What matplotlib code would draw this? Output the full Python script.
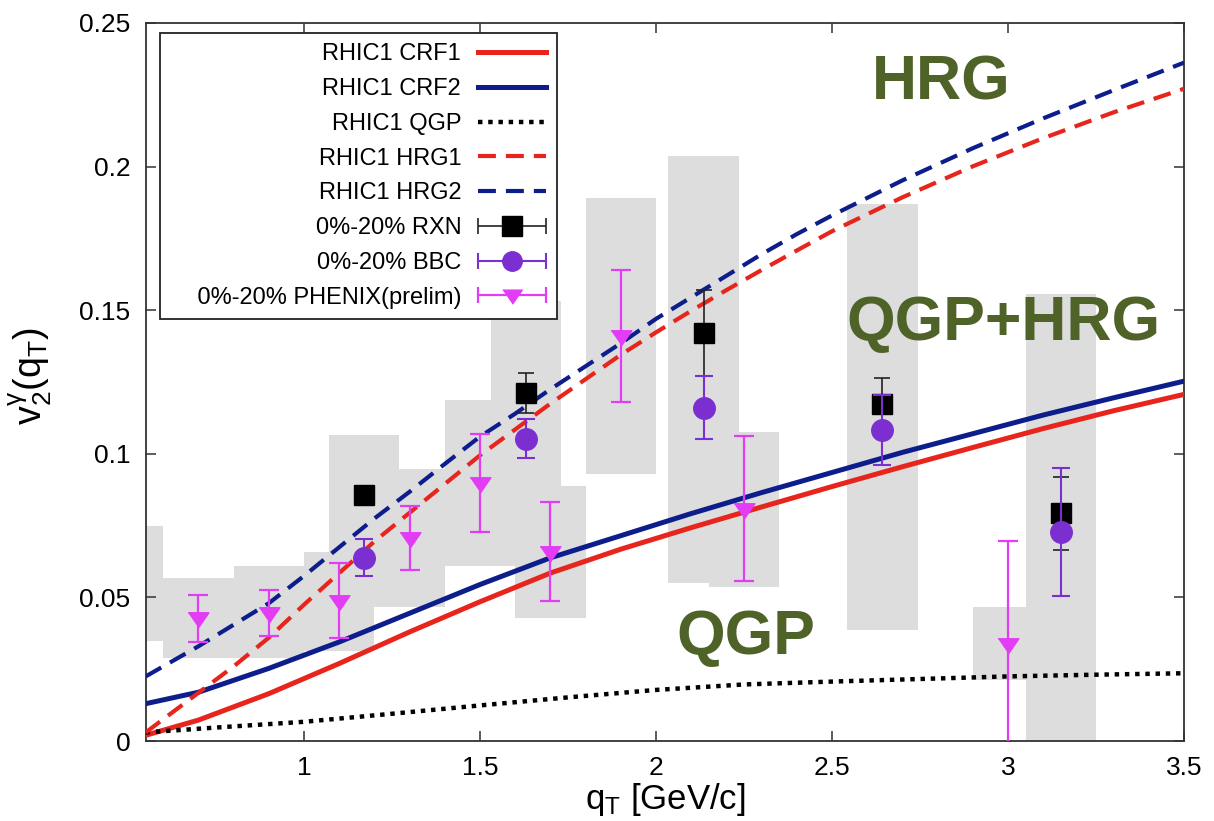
import numpy as np
import matplotlib
matplotlib.use('Agg')
import matplotlib.pyplot as plt
from matplotlib.container import ErrorbarContainer
from matplotlib.legend_handler import HandlerErrorbar
from matplotlib.patches import Rectangle

plt.rcParams['font.family'] = ['Liberation Sans', 'DejaVu Sans']
plt.rcParams['mathtext.fontset'] = 'custom'
plt.rcParams['mathtext.rm'] = 'Liberation Sans'
plt.rcParams['mathtext.it'] = 'Liberation Sans'
plt.rcParams['mathtext.bf'] = 'Liberation Sans:bold'

# ---------------- theory curves ----------------
qT_crf = [0.55, 0.7, 0.9, 1.1, 1.3, 1.5, 1.7, 1.9, 2.1, 2.3, 2.5, 2.7, 2.9, 3.1, 3.3, 3.5]
crf1 = [0.002, 0.0073, 0.0165, 0.027, 0.038, 0.0485, 0.0585, 0.0668, 0.0743, 0.0815, 0.0886,
        0.0955, 0.1022, 0.1088, 0.115, 0.1207]
crf2 = [0.013, 0.017, 0.0253, 0.0345, 0.0445, 0.0545, 0.0638, 0.0715, 0.0792, 0.0865, 0.0935,
        0.1005, 0.107, 0.1135, 0.1195, 0.1253]

qT_hrg = [0.55, 0.7, 0.8, 0.9, 1.0, 1.1, 1.2, 1.3, 1.4, 1.5, 1.6, 1.7, 1.8, 1.9, 2.0, 2.1,
          2.2, 2.3, 2.4, 2.5, 2.7, 2.9, 3.1, 3.3, 3.5]
hrg1 = [0.003, 0.0168, 0.026, 0.036, 0.0475, 0.0585, 0.0695, 0.0795, 0.0895, 0.0995, 0.1085,
        0.1175, 0.126, 0.1345, 0.1423, 0.1498, 0.157, 0.164, 0.1708, 0.1775, 0.1893, 0.2001,
        0.2099, 0.2189, 0.2271]
hrg2 = [0.0225, 0.033, 0.0405, 0.048, 0.0575, 0.0675, 0.0775, 0.0868, 0.0965, 0.106, 0.114,
        0.1225, 0.1305, 0.1385, 0.147, 0.1545, 0.162, 0.1695, 0.1765, 0.183, 0.1952, 0.2064,
        0.2168, 0.2266, 0.2362]

qT_qgp = [0.55, 0.75, 1.0, 1.25, 1.5, 1.75, 2.0, 2.25, 2.5, 2.75, 3.0, 3.25, 3.5]
qgp = [0.003, 0.0047, 0.0067, 0.0095, 0.0124, 0.0152, 0.0178, 0.0197, 0.0207, 0.0216,
       0.0225, 0.0231, 0.0236]

# ---------------- data ----------------
rxn_x = [1.17, 1.63, 2.135, 2.643, 3.15]
rxn_y = [0.0858, 0.1212, 0.142, 0.1173, 0.0793]
rxn_err = [0.002, 0.0069, 0.015, 0.009, 0.0127]

bbc_x = [1.17, 1.63, 2.135, 2.643, 3.15]
bbc_y = [0.0639, 0.1052, 0.116, 0.1083, 0.0728]
bbc_err = [0.0064, 0.0068, 0.011, 0.0123, 0.0222]

phx_x = [0.7, 0.9, 1.1, 1.3, 1.5, 1.7, 1.9, 2.25, 3.0]
phx_y = [0.0428, 0.0446, 0.0489, 0.0707, 0.0898, 0.0659, 0.141, 0.0809, 0.0339]
phx_err = [0.0082, 0.008, 0.0131, 0.011, 0.017, 0.0173, 0.023, 0.0252, 0.0358]

# systematic boxes: centre, half-width, low, high
box_x = [0.5, 0.7, 0.9, 1.1, 1.17, 1.3, 1.5, 1.63, 1.7, 1.9, 2.135, 2.25, 2.643, 3.0, 3.15]
box_hw = [0.1, 0.1, 0.1, 0.1, 0.1, 0.1, 0.1, 0.1, 0.1, 0.1, 0.1, 0.1, 0.1, 0.1, 0.1]
box_lo = [0.0349, 0.0288, 0.0288, 0.0315, 0.05, 0.0465, 0.0608, 0.062, 0.0428, 0.0929,
          0.0549, 0.0537, 0.0386, 0.0212, -0.005]
box_hi = [0.0748, 0.0567, 0.0608, 0.0657, 0.1067, 0.0947, 0.1189, 0.1532, 0.0887, 0.189,
          0.2037, 0.1077, 0.187, 0.0466, 0.1556]

x_ticks = [1, 1.5, 2, 2.5, 3, 3.5]
y_ticks = [0, 0.05, 0.1, 0.15, 0.2, 0.25]
y_ticklabels = ['0', '0.05', '0.1', '0.15', '0.2', '0.25']
x_ticklabels = ['1', '1.5', '2', '2.5', '3', '3.5']

RED = '#e8251c'
BLUE = '#0d1e8c'
PURPLE = '#7b2fd0'
MAGENTA = '#e23cf5'
GREEN = '#4f6228'

fig = plt.figure(figsize=(12.14, 8.21), dpi=100)
ax = fig.add_axes([0.12, 0.0974, 0.8553, 0.8746])

for xc, hw, lo, hi in zip(box_x, box_hw, box_lo, box_hi):
    ax.add_patch(Rectangle((xc - hw, lo), 2 * hw, hi - lo, facecolor='#dddddd',
                           edgecolor='none', zorder=1))

l1, = ax.plot(qT_crf, crf1, color=RED, lw=3.6, zorder=3, label='RHIC1 CRF1')
l2, = ax.plot(qT_crf, crf2, color=BLUE, lw=3.6, zorder=3, label='RHIC1 CRF2')
l3, = ax.plot(qT_qgp, qgp, color='black', lw=3.2, ls=(0, (1, 1.3)), zorder=3,
              label='RHIC1 QGP')
l4, = ax.plot(qT_hrg, hrg1, color=RED, lw=3.0, ls=(0, (4.3, 2.4)), zorder=3,
              label='RHIC1 HRG1')
l5, = ax.plot(qT_hrg, hrg2, color=BLUE, lw=3.0, ls=(0, (4.3, 2.4)), zorder=3,
              label='RHIC1 HRG2')

ax.errorbar(rxn_x, rxn_y, yerr=rxn_err, fmt='s', color='black', ms=15, ecolor='#222222',
            elinewidth=1.2, capsize=6, capthick=1.2, zorder=5)
ax.errorbar(bbc_x, bbc_y, yerr=bbc_err, fmt='o', color=PURPLE, ms=15.5, ecolor=PURPLE,
            elinewidth=1.5, capsize=6.5, capthick=1.5, zorder=6)
tri = [(-1, 0.55), (1, 0.55), (0, -0.9)]
ax.errorbar(phx_x, phx_y, yerr=phx_err, fmt='none', ecolor=MAGENTA,
            elinewidth=1.6, capsize=7, capthick=1.6, zorder=5)
ax.plot(phx_x, phx_y, ls='none', marker=tri, ms=15, color=MAGENTA, zorder=6)

# legend proxies
p_rxn = ax.errorbar([np.nan], [np.nan], xerr=[0.1], fmt='s', color='black', ms=14,
                    ecolor='#222222', elinewidth=1.2, capsize=6, capthick=1.2)
p_bbc = ax.errorbar([np.nan], [np.nan], xerr=[0.1], fmt='o', color=PURPLE, ms=14,
                    ecolor=PURPLE, elinewidth=1.5, capsize=6, capthick=1.5)
p_phx = ax.errorbar([np.nan], [np.nan], xerr=[0.1], fmt='none', ecolor=MAGENTA,
                    elinewidth=1.6, capsize=6, capthick=1.6)
p_phx_m, = ax.plot([np.nan], [np.nan], ls='none', marker=tri, ms=14, color=MAGENTA)

handles = [l1, l2, l3, l4, l5, p_rxn, p_bbc, (p_phx, p_phx_m)]
labels = ['RHIC1 CRF1', 'RHIC1 CRF2', 'RHIC1 QGP', 'RHIC1 HRG1', 'RHIC1 HRG2',
          '0%-20% RXN', '0%-20% BBC', '    0%-20% PHENIX(prelim)']
leg = ax.legend(handles, labels, loc='upper left', bbox_to_anchor=(0.0138, 0.9865),
                borderaxespad=0, markerfirst=False, fontsize=17, handlelength=2.9,
                handletextpad=0.7, labelspacing=0.54, borderpad=0.45, fancybox=False,
                framealpha=1, edgecolor='#222222',
                handler_map={ErrorbarContainer: HandlerErrorbar(xerr_size=1.45)})
leg.get_frame().set_linewidth(1.3)
leg.set_zorder(10)

ax.text(2.809, 0.2235, 'HRG', color=GREEN, fontsize=45, fontweight='bold',
        ha='center', va='baseline', zorder=8)
ax.text(2.988, 0.1396, 'QGP+HRG', color=GREEN, fontsize=45, fontweight='bold',
        ha='center', va='baseline', zorder=8)
ax.text(2.254, 0.0302, 'QGP', color=GREEN, fontsize=45, fontweight='bold',
        ha='center', va='baseline', zorder=8)

ax.set_xlim(0.55, 3.5)
ax.set_ylim(0, 0.25)
ax.set_xticks(x_ticks)
ax.set_xticklabels(x_ticklabels)
ax.set_yticks(y_ticks)
ax.set_yticklabels(y_ticklabels)
ax.tick_params(direction='in', length=7, width=1.1, top=True, right=True,
               labelsize=19, pad=11, color='#333333')
for s in ax.spines.values():
    s.set_linewidth(1.3)
    s.set_color('#333333')

ax.set_xlabel(r'$\mathregular{q_T}$ [GeV/c]', fontsize=25)
ax.set_ylabel(r'$\mathregular{v_2^{\gamma}(q_T)}$', fontsize=27)
ax.xaxis.set_label_coords(0.5, -0.055)
ax.yaxis.set_label_coords(-0.088, 0.508)

fig.savefig('out.png', dpi=100)
